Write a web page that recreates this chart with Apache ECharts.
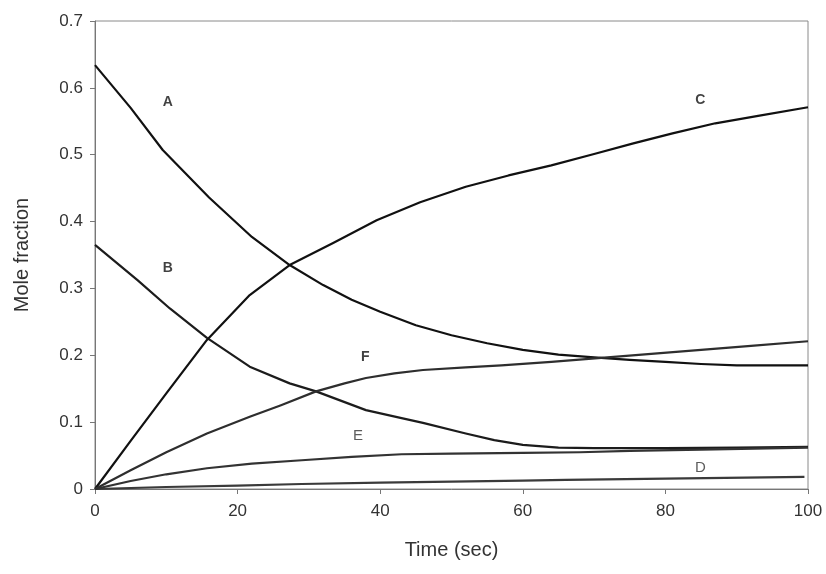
<!DOCTYPE html>
<html>
<head>
<meta charset="utf-8">
<script src="https://cdn.jsdelivr.net/npm/echarts@6/dist/echarts.min.js"></script>
<style>
  html, body { margin: 0; padding: 0; background: #fff; }
  #chart { width: 826px; height: 574px; }
</style>
</head>
<body>
<div id="chart"></div>
<script>
// Mole fraction of each species over time, [time (s), fraction]
const seriesA = [[0,0.634],[5,0.57],[9.5,0.507],[16,0.436],[22,0.377],[27.3,0.335],[32,0.305],[36,0.283],[40,0.265],[45,0.245],[50,0.230],[55,0.218],[60,0.208],[65,0.201],[70,0.197],[75,0.193],[80,0.190],[85,0.187],[90,0.185],[95,0.185],[100,0.185]];
const seriesB = [[0,0.365],[6,0.312],[10.5,0.27],[15.7,0.226],[21.7,0.183],[27.3,0.158],[31,0.146],[38,0.118],[43,0.106],[46,0.099],[52,0.083],[56,0.073],[60,0.066],[65,0.062],[70,0.061],[80,0.061],[90,0.062],[100,0.063]];
const seriesC = [[0,0],[5,0.072],[10,0.143],[15.7,0.223],[21.7,0.29],[27.3,0.335],[33.4,0.368],[39.5,0.402],[45.6,0.429],[52,0.452],[58,0.469],[64,0.484],[70,0.501],[75.5,0.517],[81,0.532],[87,0.547],[93,0.558],[100,0.571]];
const seriesD = [[0,0],[10,0.003],[20,0.005],[29,0.0075],[40,0.0095],[50,0.011],[60,0.0125],[66,0.0135],[80,0.0155],[99.5,0.018]];
const seriesE = [[0,0],[5,0.012],[10,0.022],[15.7,0.031],[22,0.038],[29,0.043],[36,0.048],[43,0.052],[50,0.053],[60,0.054],[68,0.055],[75,0.057],[85,0.059],[100,0.062]];
const seriesF = [[0,0],[5,0.028],[10,0.055],[15.7,0.083],[21.7,0.108],[26,0.125],[31,0.146],[35,0.158],[38,0.166],[42,0.173],[46,0.178],[52,0.182],[57,0.185],[64,0.190],[71,0.196],[78,0.202],[85,0.208],[92,0.214],[100,0.221]];

// Curve labels and where they sit, in data units
const labelNames = ['A', 'B', 'C', 'D', 'E', 'F'];
const labelX = [10.2, 10.2, 84.9, 84.9, 36.9, 37.9];
const labelY = [0.578, 0.330, 0.581, 0.031, 0.079, 0.197];
const labelBold = [true, true, true, false, false, true];

const xTicks = [0, 20, 40, 60, 80, 100];
const yTicks = [0, 0.1, 0.2, 0.3, 0.4, 0.5, 0.6, 0.7];

const FONT = 'Arial, "Liberation Sans", sans-serif';

function curve(name, data, color) {
  return {
    name: name,
    type: 'line',
    data: data,
    smooth: false,
    showSymbol: false,
    symbol: 'none',
    lineStyle: { color: color, width: 2.2, join: 'round' },
    z: 3
  };
}

const chart = echarts.init(document.getElementById('chart'), null, { renderer: 'canvas' });

chart.setOption({
  backgroundColor: '#ffffff',
  animation: false,
  grid: {
    left: 95, right: 18, top: 21, bottom: 85,
    show: true, borderColor: '#8a8a8a', borderWidth: 1, backgroundColor: 'transparent'
  },
  xAxis: {
    type: 'value',
    min: xTicks[0], max: xTicks[xTicks.length - 1], interval: 20,
    name: 'Time (sec)',
    nameLocation: 'middle',
    nameGap: 51,
    nameTextStyle: { fontFamily: FONT, fontSize: 20, color: '#333' },
    axisLine: { show: true, lineStyle: { color: '#777', width: 1 } },
    axisTick: { show: true, inside: false, length: 5, lineStyle: { color: '#777' } },
    axisLabel: { fontFamily: FONT, fontSize: 17, color: '#333', margin: 14 },
    splitLine: { show: false }
  },
  yAxis: {
    type: 'value',
    min: yTicks[0], max: yTicks[yTicks.length - 1], interval: 0.1,
    name: 'Mole fraction',
    nameLocation: 'middle',
    nameGap: 63,
    nameTextStyle: { fontFamily: FONT, fontSize: 20, color: '#333' },
    axisLine: { show: true, lineStyle: { color: '#777', width: 1 } },
    axisTick: { show: true, inside: false, length: 5, lineStyle: { color: '#777' } },
    axisLabel: {
      fontFamily: FONT, fontSize: 17, color: '#333', margin: 12,
      formatter: v => String(Math.round(v * 10) / 10)
    },
    splitLine: { show: false }
  },
  series: [
    curve('A', seriesA, '#111'),
    curve('B', seriesB, '#1c1c1c'),
    curve('C', seriesC, '#111'),
    curve('D', seriesD, '#3a3a3a'),
    curve('E', seriesE, '#333'),
    curve('F', seriesF, '#2e2e2e'),
    {
      name: 'labels',
      type: 'scatter',
      symbolSize: 0,
      data: labelNames.map((n, i) => ({
        name: n,
        value: [labelX[i], labelY[i]],
        label: {
          fontWeight: labelBold[i] ? 'bold' : 'normal',
          fontSize: labelBold[i] ? 14 : 15,
          color: labelBold[i] ? '#111' : '#333'
        }
      })),
      label: {
        show: true,
        position: 'inside',
        formatter: p => p.name,
        fontFamily: FONT
      },
      z: 4
    }
  ]
});
</script>
</body>
</html>
